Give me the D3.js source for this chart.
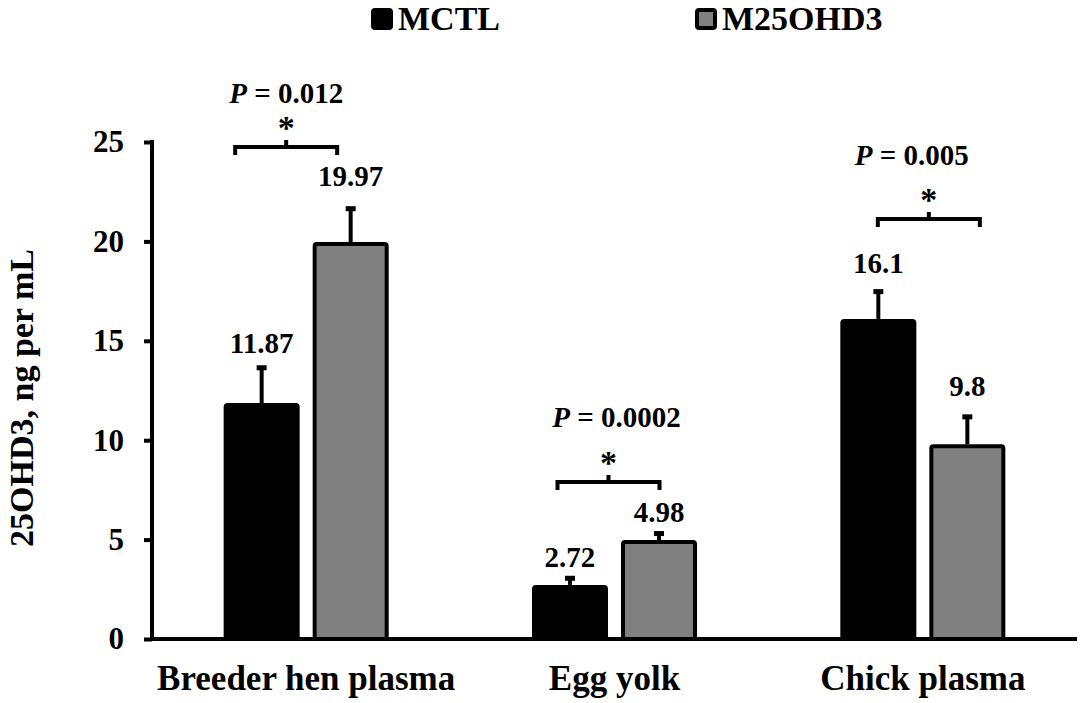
<!DOCTYPE html>
<html>
<head>
<meta charset="utf-8">
<script src="https://cdn.jsdelivr.net/npm/d3@7/dist/d3.min.js"></script>
<style>
  html, body { margin: 0; padding: 0; background: #fff; }
  svg { display: block; }
</style>
</head>
<body>
<svg id="chart" width="1084" height="703"></svg>
<script>
// ---- data ----
const categories = ["Breeder hen plasma", "Egg yolk", "Chick plasma"];
const series = ["MCTL", "M25OHD3"];
const mctlValues = [11.87, 2.72, 16.1];
const m25Values = [19.97, 4.98, 9.8];
const mctlSE = [1.9, 0.46, 1.5];
const m25SE = [1.8, 0.45, 1.5];
const yTicks = [0, 5, 10, 15, 20, 25];
const pValues = ["0.012", "0.0002", "0.005"];
const bracketLevels = [24.75, 7.9, 21.13];
const yTitle = "25OHD3, ng per mL";

// ---- layout (style, not data) ----
const FONT = '"Liberation Serif", "Times New Roman", Tinos, serif';
const seriesFill = ["#000000", "#808080"];
const labelGap = [[12, 20], [9, 9], [16, 18]];
const bracketShift = [-20, -6, 6];
const bracketHalf = 51;
const pShift = [0, 8, -17];
const pGap = [44, 55, 54];

function serif(sel, size) {
  return sel.style("font-family", FONT).style("font-weight", "bold")
    .style("font-size", size + "px").attr("fill", "#000");
}

const svg = d3.select("#chart");
const y = d3.scaleLinear().domain([0, 25]).range([639, 142]);
const x0 = d3.scaleBand().domain(categories).range([152, 1077]);
const x1 = d3.scaleBand().domain(series).range([0, x0.bandwidth()])
  .paddingInner(0.146).paddingOuter(0.805);

const rows = categories.map((c, i) => ({
  cat: c, i,
  bars: [
    { s: series[0], v: mctlValues[i], se: mctlSE[i], k: 0 },
    { s: series[1], v: m25Values[i], se: m25SE[i], k: 1 }
  ]
}));

// bars
const g = svg.append("g");
const groups = g.selectAll("g.grp").data(rows).join("g")
  .attr("class", "grp")
  .attr("transform", d => `translate(${x0(d.cat)},0)`);

groups.selectAll("rect.bar").data(d => d.bars).join("rect")
  .attr("class", "bar")
  .attr("x", d => x1(d.s) + 2)
  .attr("width", x1.bandwidth() - 4)
  .attr("y", d => y(d.v) + 2)
  .attr("height", d => y(0) - y(d.v) - 2)
  .attr("rx", 2)
  .attr("fill", d => seriesFill[d.k])
  .attr("stroke", "#000")
  .attr("stroke-width", 4);

// error bars
groups.selectAll("line.err").data(d => d.bars).join("line")
  .attr("x1", d => x1(d.s) + x1.bandwidth() / 2)
  .attr("x2", d => x1(d.s) + x1.bandwidth() / 2)
  .attr("y1", d => y(d.v))
  .attr("y2", d => y(d.v + d.se) + 2)
  .attr("stroke", "#000").attr("stroke-width", 4);
groups.selectAll("rect.cap").data(d => d.bars).join("rect")
  .attr("x", d => x1(d.s) + x1.bandwidth() / 2 - 5)
  .attr("width", 10)
  .attr("y", d => y(d.v + d.se))
  .attr("height", 5)
  .attr("fill", "#000");

// value labels
groups.each(function(row) {
  const t = d3.select(this).selectAll("text.val").data(row.bars).join("text")
    .attr("class", "val")
    .attr("x", d => x1(d.s) + x1.bandwidth() / 2)
    .attr("y", d => y(d.v + d.se) - labelGap[row.i][d.k])
    .attr("text-anchor", "middle")
    .text(d => d.v);
  serif(t, 29);
});

// significance brackets
rows.forEach(r => {
  const cx = x0(r.cat) + x0.bandwidth() / 2 + bracketShift[r.i];
  const by = y(bracketLevels[r.i]);
  svg.append("path")
    .attr("d", `M${cx - bracketHalf},${by + 8}V${by}H${cx + bracketHalf}V${by + 8}M${cx},${by}V${by - 7}`)
    .attr("fill", "none").attr("stroke", "#000").attr("stroke-width", 4)
    .attr("stroke-linejoin", "miter");
  serif(svg.append("text")
    .attr("x", cx).attr("y", by - 8)
    .attr("text-anchor", "middle")
    .text("*"), 34);
  const t = serif(svg.append("text")
    .attr("x", cx + pShift[r.i]).attr("y", by - pGap[r.i])
    .attr("text-anchor", "middle"), 29);
  t.append("tspan").style("font-style", "italic").text("P");
  t.append("tspan").text(" = " + pValues[r.i]);
});

// axes
const yAxis = d3.axisLeft(y).tickValues(yTicks).tickSize(8).tickSizeOuter(0).tickPadding(20);
const ya = svg.append("g").attr("transform", "translate(152,0)").call(yAxis);
ya.attr("font-family", null);
ya.selectAll("path,line").attr("stroke", "#000").attr("stroke-width", 4);
ya.select(".domain").attr("d", `M0,${y(25) - 2}V${y(0) + 2}`);
serif(ya.selectAll("text"), 31);

const xAxis = d3.axisBottom(x0).tickSize(0).tickSizeOuter(0).tickPadding(26);
const xa = svg.append("g").attr("transform", `translate(0,${y(0)})`).call(xAxis);
xa.attr("font-family", null);
xa.select(".domain").attr("stroke", "#000").attr("stroke-width", 4)
  .attr("d", `M150,0H1077`);
serif(xa.selectAll("text"), 35);

// y title
serif(svg.append("text")
  .attr("transform", "translate(33,398) rotate(-90)")
  .attr("text-anchor", "middle")
  .text(yTitle), 34);

// legend
const legendX = [371, 695];
const leg = svg.selectAll("g.leg").data(series).join("g")
  .attr("class", "leg")
  .attr("transform", (d, i) => `translate(${legendX[i]},8)`);
leg.append("rect")
  .attr("x", 2).attr("y", 2).attr("width", 18).attr("height", 18).attr("rx", 2)
  .attr("fill", (d, i) => seriesFill[i]).attr("stroke", "#000").attr("stroke-width", 4);
serif(leg.append("text")
  .attr("x", 27).attr("y", 22)
  .text(d => d), 34);
</script>
</body>
</html>
